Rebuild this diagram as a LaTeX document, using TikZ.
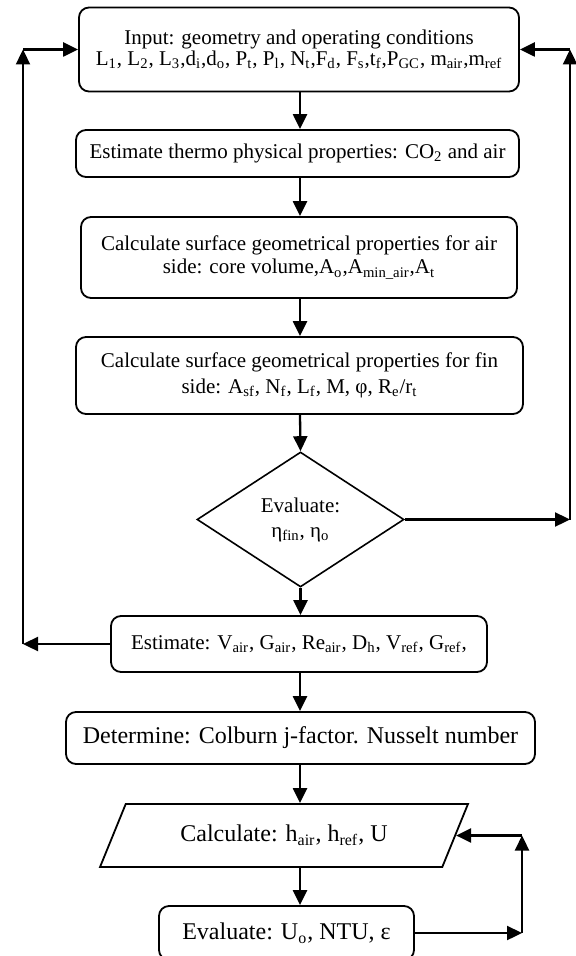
\documentclass[tikz,border=0pt]{standalone}
\usepackage{fontspec}
\setmainfont{Liberation Serif}
\usetikzlibrary{shapes.geometric}
\usetikzlibrary{arrows.meta}
\newcommand{\sbs}[1]{\textsubscript{#1}}
\tikzset{
  procbox/.style={draw, line width=0.9pt, rounded corners=5pt, align=center, inner sep=0pt},
  decision/.style={draw, diamond, aspect=1.5, line width=0.8pt, align=center, inner sep=0pt},
  iobox/.style={draw, trapezium, trapezium left angle=50.5, trapezium right angle=129.5, trapezium stretches=true, line width=0.9pt, inner sep=0pt},
  arr/.style={-{Triangle[length=7.5pt,width=7pt]}, line width=1.15pt},
  smalltxt/.style={font=\fontsize{10.5}{11.5}\selectfont},
  bigtxt/.style={font=\fontsize{12}{14}\selectfont}
}
\begin{document}
\begin{tikzpicture}[x=0.5pt,y=-0.5pt]
            % Fin-and-tube gas cooler calculation flow
            \useasboundingbox (0,0) rectangle (575,956);

            \node[procbox, font=\fontsize{10.5}{9.2}\selectfont, minimum width=220pt, minimum height=42pt] (input) at (299,49.5)
              {Input: geometry and operating conditions\\
               L\sbs{1}, L\sbs{2}, L\sbs{3},d\sbs{i},d\sbs{o}, P\sbs{t}, P\sbs{l}, N\sbs{t},F\sbs{d}, F\sbs{s},t\sbs{f},P\sbs{GC}, m\sbs{air},m\sbs{ref}};
            \node[procbox, smalltxt, minimum width=221.5pt, minimum height=23.5pt] (estprops) at (297.5,153.5)
              {Estimate thermo physical properties: CO\sbs{2} and air};
            \node[procbox, font=\fontsize{10.5}{11.5}\selectfont, minimum width=218pt, minimum height=40.5pt] (airside) at (299,257.5)
              {Calculate surface geometrical properties for air\\ side: core volume,A\sbs{o},A\sbs{min\_air},A\sbs{t}};
            \node[procbox, font=\fontsize{10.5}{13}\selectfont, minimum width=223.5pt, minimum height=38.5pt] (finside) at (299.5,375.5)
              {Calculate surface geometrical properties for fin\\ side: A\sbs{sf}, N\sbs{f}, L\sbs{f}, M, φ, R\sbs{e}/r\sbs{t}};
            \node[decision, font=\fontsize{10.5}{12.5}\selectfont, minimum width=103.5pt, minimum height=67.5pt] (effic) at (300.5,519.5)
              {Evaluate:\\ η\sbs{fin}, η\sbs{o}};
            \node[procbox, smalltxt, minimum width=188pt, minimum height=28pt] (estflow) at (299,644)
              {Estimate: V\sbs{air}, G\sbs{air}, Re\sbs{air}, D\sbs{h}, V\sbs{ref}, G\sbs{ref},};
            \node[procbox, bigtxt, minimum width=234.5pt, minimum height=26pt] (correl) at (300.5,738)
              {Determine: Colburn j-factor. Nusselt number};
            \node[iobox, bigtxt, minimum width=184pt, minimum height=31.5pt] (htc) at (284,835.5)
              {Calculate: h\sbs{air}, h\sbs{ref}, U};
            \node[procbox, bigtxt, minimum width=127.5pt, minimum height=27pt] (perf) at (286.5,933)
              {Evaluate: U\sbs{o}, NTU, ε};

            \coordinate (spine) at (300,0);
            \coordinate (lft) at (23,0);
            \coordinate (rgt) at (570,0);
            \coordinate (bot) at (522,0);

            \draw[arr] (input.south -| spine) -- (estprops.north -| spine);
            \draw[arr] (estprops.south -| spine) -- (airside.north -| spine);
            \draw[arr] (airside.south -| spine) -- (finside.north -| spine);
            \draw[arr] (finside.south -| spine) -- (effic.north);
            \draw[arr] (effic.south) -- (estflow.north -| effic.south);
            \draw[arr] (estflow.south -| spine) -- (correl.north -| spine);
            \draw[arr] (correl.south -| spine) -- (htc.north -| spine);
            \draw[arr] (htc.south -| spine) -- (perf.north -| spine);

            \coordinate (lftlow) at (estflow.west -| lft);
            \coordinate (lfttop) at (input.west -| lft);
            \draw[arr] (estflow.west) -- (lftlow);
            \draw[arr] (lftlow) -- (lfttop);
            \draw[arr] (lfttop) -- (input.west);

            \coordinate (rgtlow) at (effic.east -| rgt);
            \coordinate (rgttop) at (input.east -| rgt);
            \draw[arr] (effic.east) -- (rgtlow);
            \draw[arr] (rgtlow) -- (rgttop);
            \draw[arr] (rgttop) -- (input.east);

            \coordinate (botlow) at (perf.east -| bot);
            \coordinate (bottop) at (htc.east -| bot);
            \draw[arr] (perf.east) -- (botlow);
            \draw[arr] (botlow) -- (bottop);
            \draw[arr] (bottop) -- (htc.east);
        \end{tikzpicture}
\end{document}
